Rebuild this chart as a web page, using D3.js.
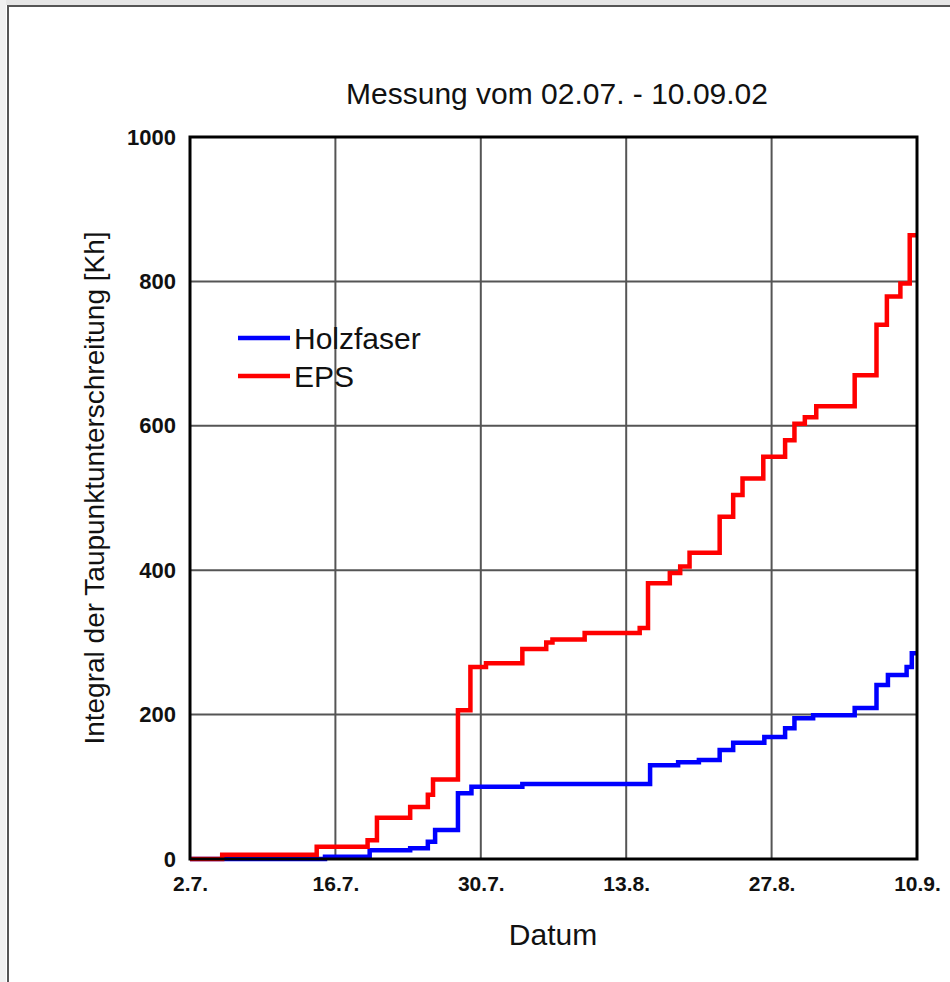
<!DOCTYPE html>
<html>
<head>
<meta charset="utf-8">
<script src="https://cdn.jsdelivr.net/npm/d3@7"></script>
<style>
  body { margin: 0; background: #fff; }
  text { font-family: "Liberation Sans", Arial, sans-serif; fill: #111; }
</style>
</head>
<body>
<script>
let w = 950;
let h = 982;

// days since 2.7.2002
let tickDays = [0, 14, 28, 42, 56, 70];
let tickLabels = ["2.7.", "16.7.", "30.7.", "13.8.", "27.8.", "10.9."];
let yTicks = [0, 200, 400, 600, 800, 1000];

let seriesNames = ["Holzfaser", "EPS"];
let seriesColors = ["#0000ff", "#ff0000"];

let hfDays = [0, 13, 17.3, 21.2, 22.9, 23.6, 25.8, 27.1, 32, 44.3, 47, 49, 51, 52.3, 55.3, 57.3, 58.2, 60, 64, 66.1, 67.2, 69, 69.5, 70];
let hfValues = [0, 3, 12, 15, 24, 40, 91, 100, 104, 130, 134, 137, 151, 161, 169, 181, 195, 199, 209, 241, 255, 266, 285, 285];

let epsDays = [0, 3.1, 12.2, 17.1, 18, 21.2, 22.9, 23.4, 25.8, 27, 28.5, 32, 34.3, 34.9, 38, 43.3, 44.1, 46.2, 47.2, 48.1, 51, 52.3, 53.2, 55.2, 57.3, 58.2, 59.2, 60.3, 64, 66.1, 67.1, 68.4, 69.3, 70];
let epsValues = [0, 6, 17, 26, 57, 72, 89, 110, 206, 266, 271, 291, 300, 304, 313, 320, 382, 396, 405, 424, 474, 504, 527, 557, 580, 603, 612, 627, 670, 740, 779, 797, 864, 864];

let data = [
  hfDays.map((d, i) => [d, hfValues[i]]),
  epsDays.map((d, i) => [d, epsValues[i]])
];

let plotL = 190, plotR = 917, plotT = 137, plotB = 859;

let xScale = d3.scaleLinear().domain([0, 70]).range([plotL, plotR]);
let yScale = d3.scaleLinear().domain([0, 1000]).range([plotB, plotT]);

let svg = d3.select("body").append("svg")
  .attr("width", w)
  .attr("height", h);

// page frame
svg.append("rect").attr("x", 0).attr("y", 0).attr("width", w).attr("height", 5).attr("fill", "#e6e6e6");
svg.append("rect").attr("x", 0).attr("y", 0).attr("width", 6).attr("height", h).attr("fill", "#f0f0f0");
svg.append("path")
  .attr("d", "M8," + h + "V6H" + w)
  .attr("fill", "none")
  .attr("stroke", "#555")
  .attr("stroke-width", 2);

// grid
svg.append("g")
  .selectAll("line")
  .data(tickDays.slice(1, -1))
  .enter().append("line")
  .attr("x1", (d) => xScale(d)).attr("x2", (d) => xScale(d))
  .attr("y1", plotT).attr("y2", plotB)
  .attr("stroke", "#555").attr("stroke-width", 2);

svg.append("g")
  .selectAll("line")
  .data(yTicks.slice(1, -1))
  .enter().append("line")
  .attr("y1", (d) => yScale(d)).attr("y2", (d) => yScale(d))
  .attr("x1", plotL).attr("x2", plotR)
  .attr("stroke", "#555").attr("stroke-width", 2);

// axes
let xAxis = d3.axisBottom(xScale)
  .tickValues(tickDays)
  .tickSize(0)
  .tickPadding(17)
  .tickFormat((d, i) => tickLabels[i]);

let yAxis = d3.axisLeft(yScale)
  .tickValues(yTicks)
  .tickSize(0)
  .tickPadding(14)
  .tickFormat(d3.format("d"));

let gx = svg.append("g")
  .attr("transform", "translate(0," + plotB + ")")
  .call(xAxis);
gx.select(".domain").remove();
gx.selectAll("text")
  .attr("font-size", 21).attr("font-weight", "bold")
  .attr("font-family", "'Liberation Sans', Arial, sans-serif")
  .attr("fill", "#111");

let gy = svg.append("g")
  .attr("transform", "translate(" + plotL + ",0)")
  .call(yAxis);
gy.select(".domain").remove();
gy.selectAll("text")
  .attr("font-size", 22).attr("font-weight", "bold")
  .attr("font-family", "'Liberation Sans', Arial, sans-serif")
  .attr("fill", "#111");

// lines
let line = d3.line()
  .x((d) => xScale(d[0]))
  .y((d) => yScale(d[1]))
  .curve(d3.curveStepAfter);

svg.append("g")
  .selectAll("path")
  .data(data)
  .enter().append("path")
  .attr("d", line)
  .attr("fill", "none")
  .attr("stroke", (d, i) => seriesColors[i])
  .attr("stroke-width", 4.5)
  .attr("stroke-linejoin", "miter");

// plot frame
svg.append("rect")
  .attr("x", plotL).attr("y", plotT)
  .attr("width", plotR - plotL).attr("height", plotB - plotT)
  .attr("fill", "none")
  .attr("stroke", "#000")
  .attr("stroke-width", 3);

// legend
let legend = svg.append("g")
  .selectAll("g")
  .data(seriesNames)
  .enter().append("g")
  .attr("transform", (d, i) => "translate(238," + (338 + i * 38) + ")");
legend.append("line")
  .attr("x1", 0).attr("x2", 52)
  .attr("stroke", (d, i) => seriesColors[i])
  .attr("stroke-width", 4.5);
legend.append("text")
  .attr("x", 56).attr("y", 11)
  .attr("font-size", 30)
  .text((d) => d);

// titles
svg.append("text")
  .attr("x", 557).attr("y", 104)
  .attr("text-anchor", "middle")
  .attr("font-size", 30)
  .text("Messung vom 02.07. - 10.09.02");

svg.append("text")
  .attr("x", 553).attr("y", 945)
  .attr("text-anchor", "middle")
  .attr("font-size", 30)
  .text("Datum");

svg.append("text")
  .attr("transform", "translate(104,488) rotate(-90)")
  .attr("text-anchor", "middle")
  .attr("font-size", 28)
  .text("Integral der Taupunktunterschreitung [Kh]");
</script>
</body>
</html>
